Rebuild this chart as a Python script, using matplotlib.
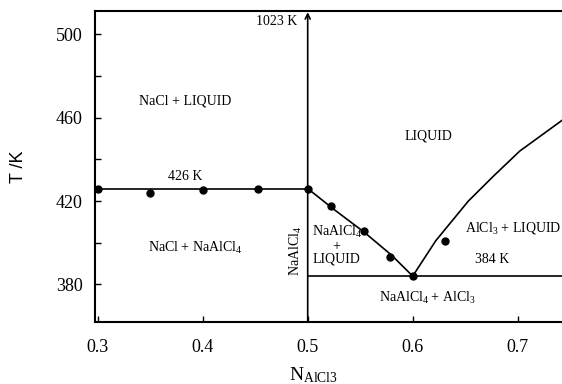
import numpy as np
import matplotlib
matplotlib.use("Agg")
import matplotlib.pyplot as plt

plt.rcParams["font.family"] = "Liberation Serif"
plt.rcParams["mathtext.fontset"] = "custom"
plt.rcParams["mathtext.rm"] = "Liberation Serif"
plt.rcParams["mathtext.it"] = "Liberation Serif:italic"

# invariant temperatures (K)
T_peritectic = 426
T_eutectic = 384
x_compound = 0.5
x_eutectic = 0.6

# NaAlCl4 liquidus (x, T)
liq_left_x = [0.5, 0.525, 0.554, 0.58, 0.6]
liq_left_T = [426, 416, 405, 394, 384]

# AlCl3 liquidus (x, T)
liq_right_x = [0.6, 0.622, 0.653, 0.677, 0.702, 0.743, 0.75]
liq_right_T = [384, 401, 420, 432, 444, 459, 461]

# measured points
pts_x = [0.3, 0.35, 0.40, 0.453, 0.5, 0.522, 0.554, 0.578, 0.631, 0.6]
pts_T = [426, 424, 425.5, 426, 426, 417.5, 405.5, 393, 401, 384]

xlim = (0.2974, 0.7422)
ylim = (362.0, 511.2)

fig = plt.figure(figsize=(5.62, 3.84), dpi=100)
ax = fig.add_axes([0.169, 0.1615, 0.831, 0.81])

lw = 1.2
ax.plot([xlim[0], x_compound], [T_peritectic, T_peritectic], c='k', lw=lw)
ax.plot([x_compound, xlim[1]], [T_eutectic, T_eutectic], c='k', lw=lw)
ax.plot(liq_left_x, liq_left_T, c='k', lw=lw)
ax.plot(liq_right_x, liq_right_T, c='k', lw=lw)
ax.annotate("", xy=(x_compound, 510.6), xytext=(x_compound, ylim[0]),
            arrowprops=dict(arrowstyle="->", lw=lw, color='k',
                            mutation_scale=9, shrinkA=0, shrinkB=0))
ax.plot(pts_x, pts_T, 'o', c='k', ms=5, clip_on=False)

fs = 10
ax.text(0.383, 468, "NaCl + LIQUID", fontsize=fs, ha='center', va='center')
ax.text(0.383, 432, "426 K", fontsize=fs, ha='center', va='center')
ax.text(0.615, 451, "LIQUID", fontsize=fs, ha='center', va='center')
ax.text(0.4898, 506, "1023 K", fontsize=fs, ha='right', va='center')
ax.text(0.3926, 397.3, r"NaCl + NaAlCl$_4$", fontsize=fs, ha='center', va='center')
ax.text(0.4889, 396.3, r"NaAlCl$_4$", fontsize=fs, ha='center', va='center',
        rotation=90)
ax.text(0.5276, 399, "NaAlCl$_4$\n+\nLIQUID", fontsize=fs, ha='center',
        va='center', linespacing=0.95)
ax.text(0.696, 407, r"AlCl$_3$ + LIQUID", fontsize=fs, ha='center', va='center')
ax.text(0.6758, 392, "384 K", fontsize=fs, ha='center', va='center')
ax.text(0.6141, 373.3, r"NaAlCl$_4$ + AlCl$_3$", fontsize=fs, ha='center',
        va='center')

ax.set_xlim(*xlim)
ax.set_ylim(*ylim)
ax.set_xticks(np.arange(0.3, 0.75, 0.1))
ax.set_xticklabels(["0.3", "0.4", "0.5", "0.6", "0.7"])
ax.set_yticks([380, 420, 460, 500])
ax.set_yticks([400, 440, 480], minor=True)
ax.tick_params(which='both', direction='in', length=4, width=1, labelsize=13)
ax.tick_params(axis='x', pad=12)
ax.tick_params(axis='y', pad=9)
ax.spines['right'].set_visible(False)
for s in ['left', 'bottom', 'top']:
    ax.spines[s].set_linewidth(1.5)

ax.set_ylabel("T /K", fontsize=13, family="Liberation Sans")
ax.yaxis.set_label_coords(-0.145, 0.5)
ax.set_xlabel(r"N$_{\mathrm{AlCl3}}$", fontsize=14)
ax.xaxis.set_label_coords(0.467, -0.14)

fig.savefig("out.png", dpi=100)
